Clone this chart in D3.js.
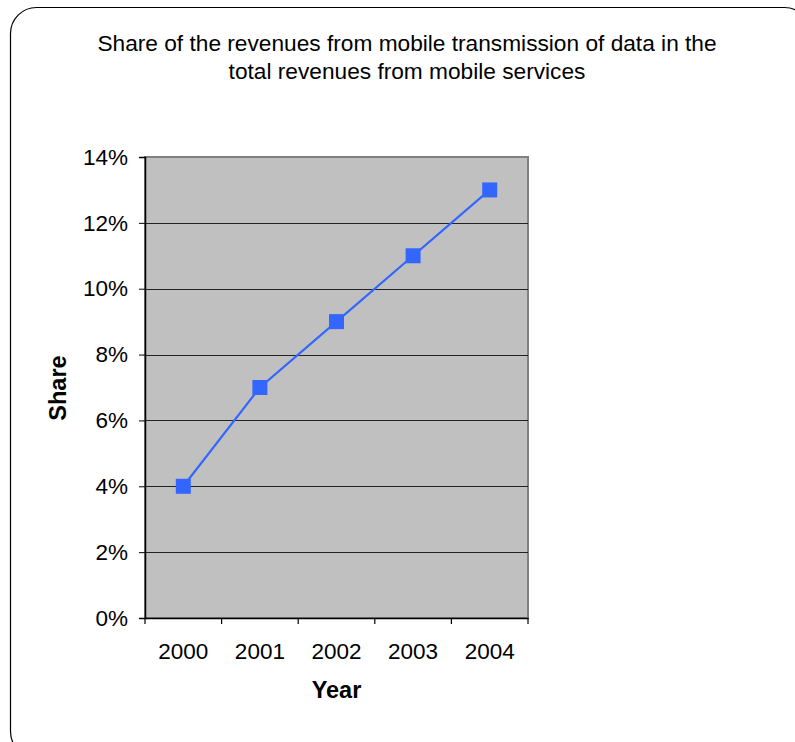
<!DOCTYPE html>
<html>
<head>
<meta charset="utf-8">
<script src="https://cdn.jsdelivr.net/npm/d3@7"></script>
<style>
  body { margin: 0; background: #fff; }
  svg { display: block; font-family: "Liberation Sans", Arial, sans-serif; }
</style>
</head>
<body>
<div id="chart"></div>
<script>
// data
var years = ["2000", "2001", "2002", "2003", "2004"];
var share = [0.04, 0.07, 0.09, 0.11, 0.13];
var yTicks = [0, 0.02, 0.04, 0.06, 0.08, 0.10, 0.12, 0.14];
var titleLines = ["Share of the revenues from mobile transmission of data in the",
                  "total revenues from mobile services"];

var W = 795, H = 742;
var plot = { left: 145, top: 157, right: 528, bottom: 618 };
var fontTick = 22.5;

var svg = d3.select("#chart").append("svg")
    .attr("width", W)
    .attr("height", H);

// outer rounded frame (runs off the right and bottom edges)
svg.append("rect")
    .attr("x", 10.5).attr("y", 7.5)
    .attr("width", 800).attr("height", 750)
    .attr("rx", 26).attr("ry", 26)
    .attr("fill", "#fff")
    .attr("stroke", "#000")
    .attr("stroke-width", 1.2);

// title
svg.append("text")
    .attr("text-anchor", "middle")
    .attr("font-size", 22.7)
    .attr("fill", "#000")
    .selectAll("tspan")
    .data(titleLines)
    .enter().append("tspan")
    .attr("x", 407)
    .attr("y", function(d, i) { return 51 + i * 27.5; })
    .text(function(d) { return d; });

// scales
var x = d3.scaleBand()
    .domain(years)
    .range([plot.left, plot.right]);

var y = d3.scaleLinear()
    .domain([0, 0.14])
    .range([plot.bottom, plot.top]);

// plot background
svg.append("rect")
    .attr("x", plot.left).attr("y", plot.top)
    .attr("width", plot.right - plot.left)
    .attr("height", plot.bottom - plot.top)
    .attr("fill", "#c0c0c0")
    .attr("stroke", "#808080")
    .attr("stroke-width", 2);

// gridlines
svg.append("g")
    .selectAll("line")
    .data(yTicks.slice(1, -1))
    .enter().append("line")
    .attr("x1", plot.left).attr("x2", plot.right)
    .attr("y1", function(d) { return Math.round(y(d)) + 0.5; })
    .attr("y2", function(d) { return Math.round(y(d)) + 0.5; })
    .attr("stroke", "#222")
    .attr("stroke-width", 1);

// y axis
var yAxis = svg.append("g")
    .attr("transform", "translate(" + plot.left + ",0)")
    .call(d3.axisLeft(y)
        .tickValues(yTicks)
        .tickSize(6)
        .tickPadding(11)
        .tickFormat(d3.format(".0%")));
yAxis.select(".domain").attr("stroke", "#000").attr("stroke-width", 1.5);
yAxis.selectAll(".tick line").attr("stroke", "#000");
yAxis.selectAll(".tick text")
    .attr("font-size", fontTick)
    .attr("font-family", "Liberation Sans, Arial, sans-serif")
    .attr("fill", "#000");

// x axis
var xAxis = svg.append("g")
    .attr("transform", "translate(0," + plot.bottom + ")")
    .call(d3.axisBottom(x).tickSize(0).tickPadding(25));
xAxis.select(".domain").attr("stroke", "#000").attr("stroke-width", 1.5);
xAxis.selectAll(".tick text")
    .attr("font-size", fontTick)
    .attr("font-family", "Liberation Sans, Arial, sans-serif")
    .attr("fill", "#000");

// x tick marks at band edges
var edges = years.map(function(d) { return x(d); }).concat([plot.right]);
xAxis.selectAll(".edge")
    .data(edges)
    .enter().append("line")
    .attr("class", "edge")
    .attr("x1", function(d) { return d; })
    .attr("x2", function(d) { return d; })
    .attr("y1", 0).attr("y2", 6)
    .attr("stroke", "#000")
    .attr("stroke-width", 1.2);

// axis titles
svg.append("text")
    .attr("x", (plot.left + plot.right) / 2)
    .attr("y", 698)
    .attr("text-anchor", "middle")
    .attr("font-size", 23.5)
    .attr("font-weight", "bold")
    .text("Year");

svg.append("text")
    .attr("transform", "translate(66," + 388 + ") rotate(-90)")
    .attr("text-anchor", "middle")
    .attr("font-size", 23.5)
    .attr("font-weight", "bold")
    .text("Share");

// series line
var pts = years.map(function(d, i) { return { year: d, v: share[i] }; });

var line = d3.line()
    .x(function(d) { return x(d.year) + x.bandwidth() / 2; })
    .y(function(d) { return y(d.v); });

svg.append("path")
    .datum(pts)
    .attr("d", line)
    .attr("fill", "none")
    .attr("stroke", "#3366ff")
    .attr("stroke-width", 2.2);

// markers
var ms = 15;
svg.append("g")
    .selectAll("rect")
    .data(pts)
    .enter().append("rect")
    .attr("x", function(d) { return x(d.year) + x.bandwidth() / 2 - ms / 2; })
    .attr("y", function(d) { return y(d.v) - ms / 2; })
    .attr("width", ms).attr("height", ms)
    .attr("fill", "#3366ff");
</script>
</body>
</html>
